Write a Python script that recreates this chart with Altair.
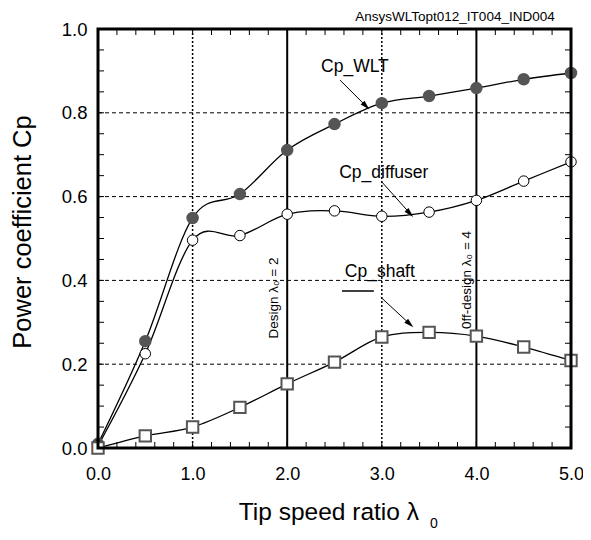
import altair as alt
import pandas as pd

# ---- data ----
tsr = [0.0, 0.5, 1.0, 1.5, 2.0, 2.5, 3.0, 3.5, 4.0, 4.5, 5.0]
cp_wlt = [0.010, 0.255, 0.549, 0.606, 0.711, 0.773, 0.823, 0.840, 0.859, 0.880, 0.895]
cp_diffuser = [0.005, 0.225, 0.496, 0.507, 0.558, 0.566, 0.553, 0.563, 0.591, 0.637, 0.683]
cp_shaft = [0.000, 0.029, 0.050, 0.097, 0.153, 0.205, 0.265, 0.276, 0.267, 0.241, 0.209]

x_ticks = [0.0, 1.0, 2.0, 3.0, 4.0, 5.0]
y_ticks = [0.0, 0.2, 0.4, 0.6, 0.8, 1.0]
x_minor = [round(i * 0.2, 2) for i in range(26)]
y_minor = [round(i * 0.05, 2) for i in range(21)]
h_grid = [0.2, 0.4, 0.6, 0.8]
v_dotted = [1.0, 3.0]
v_design = [2.0, 4.0]

labels = ["Cp_WLT", "Cp_diffuser", "Cp_shaft"]
label_x = [2.716, 3.021, 2.979]
label_y = [0.909, 0.656, 0.421]
arrow_x = [2.558, 3.000, 2.989]
arrow_y = [0.878, 0.635, 0.360]
arrow_x2 = [2.842, 3.305, 3.305]
arrow_y2 = [0.814, 0.558, 0.294]
arrow_angle = [135, 137, 133]

W, H = 473, 419
FONT = "Liberation Sans"

xs = alt.Scale(domain=[0, 5], nice=False, zero=False)
ys = alt.Scale(domain=[0, 1], nice=False, zero=False)

df_wlt = pd.DataFrame({"x": tsr, "y": cp_wlt})
df_dif = pd.DataFrame({"x": tsr, "y": cp_diffuser})
df_sh = pd.DataFrame({"x": tsr, "y": cp_shaft})

x_axis = alt.Axis(values=x_ticks, format=".1f", labelFontSize=18, labelFont=FONT,
                  labelColor="black", domain=False, ticks=False, grid=False,
                  labelFlush=False, labelBound=False, labelOverlap=False,
                  labelPadding=17, title=None)
y_axis = alt.Axis(values=y_ticks, format=".1f", labelFontSize=18.5, labelFont=FONT,
                  labelColor="black", domain=False, ticks=False, grid=False,
                  labelFlush=False, labelBound=False, labelOverlap=False,
                  labelPadding=11, title=None)


def X(field="x"):
    return alt.X(f"{field}:Q", scale=xs, axis=x_axis)


def Y(field="y"):
    return alt.Y(f"{field}:Q", scale=ys, axis=y_axis)


# grid lines
hgrid = alt.Chart(pd.DataFrame({"y": h_grid})).mark_rule(
    color="black", strokeWidth=1, strokeDash=[4, 3]).encode(y=Y())
vdot = alt.Chart(pd.DataFrame({"x": v_dotted})).mark_rule(
    color="black", strokeWidth=1.5, strokeDash=[2, 2]).encode(x=X())
vdes = alt.Chart(pd.DataFrame({"x": v_design})).mark_rule(
    color="black", strokeWidth=2).encode(x=X())

# minor ticks (inward)
xm = pd.DataFrame({"x": x_minor})
ym = pd.DataFrame({"y": y_minor})
tick_b = alt.Chart(xm).mark_rule(color="black", strokeWidth=1).encode(
    x=X(), y=alt.value(H), y2=alt.value(H - 6))
tick_t = alt.Chart(xm).mark_rule(color="black", strokeWidth=1).encode(
    x=X(), y=alt.value(0), y2=alt.value(6))
tick_l = alt.Chart(ym).mark_rule(color="black", strokeWidth=1).encode(
    y=Y(), x=alt.value(0), x2=alt.value(6))
tick_r = alt.Chart(ym).mark_rule(color="black", strokeWidth=1).encode(
    y=Y(), x=alt.value(W), x2=alt.value(W - 6))

# plot frame
frame = alt.Chart(pd.DataFrame({"k": [0]})).mark_rect(
    fill=None, fillOpacity=0, stroke="black", strokeWidth=3).encode(
    x=alt.value(0), x2=alt.value(W), y=alt.value(0), y2=alt.value(H))

# series lines
interp = "cardinal"
line_wlt = alt.Chart(df_wlt).mark_line(color="black", strokeWidth=1.3, interpolate=interp).encode(
    x=X(), y=Y())
line_dif = alt.Chart(df_dif).mark_line(color="black", strokeWidth=1.3, interpolate=interp).encode(
    x=X(), y=Y())
line_sh = alt.Chart(df_sh).mark_line(color="black", strokeWidth=1.3, interpolate=interp).encode(
    x=X(), y=Y())

pt_wlt = alt.Chart(df_wlt).mark_point(shape="circle", filled=True, fill="#555555",
                                      stroke="#555555", size=110, opacity=1).encode(x=X(), y=Y())
pt_dif = alt.Chart(df_dif).mark_point(shape="circle", filled=True, fill="white",
                                      stroke="black", strokeWidth=1, size=110, opacity=1).encode(x=X(), y=Y())
pt_sh = alt.Chart(df_sh).mark_point(shape="square", filled=True, fill="white",
                                    stroke="#555555", strokeWidth=2, size=130, opacity=1).encode(x=X(), y=Y())

# annotations
ann = pd.DataFrame({"label": labels, "x": label_x, "y": label_y})
ann_text = alt.Chart(ann).mark_text(font=FONT, fontSize=17.5, color="black",
                                    baseline="middle", align="center").encode(
    x=X(), y=Y(), text="label:N")
arr = pd.DataFrame({"x": arrow_x, "y": arrow_y, "x2": arrow_x2, "y2": arrow_y2, "a": arrow_angle})
arr_line = alt.Chart(arr).mark_rule(color="black", strokeWidth=1).encode(
    x=X(), y=Y(), x2="x2:Q", y2="y2:Q")
arr_head = alt.Chart(arr).mark_point(shape="M0,0 L-0.45,1.6 L0.45,1.6 Z", filled=True,
                                     fill="black", stroke="black", size=40, opacity=1).encode(
    x=X("x2"), y=Y("y2"), angle=alt.Angle("a:Q", scale=None))
shaft_bar = alt.Chart(pd.DataFrame({"x": [2.579], "x2": [2.916], "y": [0.375]})).mark_rule(
    color="black", strokeWidth=1.5).encode(x=X(), x2="x2:Q", y=Y())

rot = pd.DataFrame({"t": ["Design λ₀ = 2", "0ff-design λ₀ = 4"],
                    "x": [1.860, 3.900], "y": [0.358, 0.401]})
rot_text = alt.Chart(rot).mark_text(font=FONT, fontSize=13.5, angle=270, color="black",
                                    baseline="middle", align="center").encode(
    x=X(), y=Y(), text="t:N")

# titles
ytitle = alt.Chart(pd.DataFrame({"t": ["Power coefficient Cp"]})).mark_text(
    font=FONT, fontSize=25.5, angle=270, color="black", baseline="middle", align="center").encode(
    x=alt.value(-75), y=alt.value(203), text="t:N")
xtitle = alt.Chart(pd.DataFrame({"t": ["Tip speed ratio λ"]})).mark_text(
    font=FONT, fontSize=24.5, color="black", baseline="middle", align="right").encode(
    x=alt.value(321), y=alt.value(484), text="t:N")
xsub = alt.Chart(pd.DataFrame({"t": ["0"]})).mark_text(
    font=FONT, fontSize=14, color="black", baseline="middle", align="center").encode(
    x=alt.value(336), y=alt.value(495), text="t:N")
corner = alt.Chart(pd.DataFrame({"t": ["AnsysWLTopt012_IT004_IND004"]})).mark_text(
    font=FONT, fontSize=13.5, color="black", baseline="middle", align="center").encode(
    x=alt.value(357), y=alt.value(-12), text="t:N")

chart = alt.layer(
    hgrid, vdot, vdes, tick_b, tick_t, tick_l, tick_r,
    line_wlt, line_dif, line_sh, pt_wlt, pt_dif, pt_sh,
    ann_text, arr_line, arr_head, shaft_bar, rot_text, frame,
    ytitle, xtitle, xsub, corner,
).properties(
    width=W, height=H,
    background="white",
    autosize=alt.AutoSizeParams(type="none"),
    padding={"left": 90, "top": 21, "right": 12, "bottom": 84},
).configure_view(stroke=None)

chart.save("out.html", embed_options={"renderer": "svg", "actions": False})
